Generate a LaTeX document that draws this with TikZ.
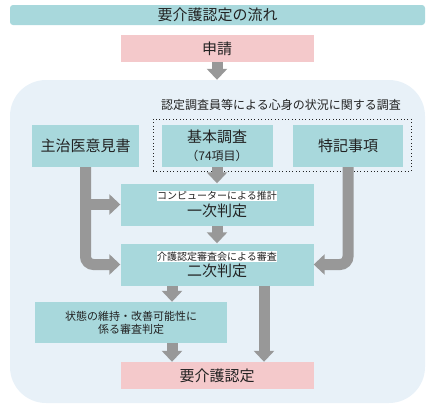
\documentclass[tikz,border=0pt]{standalone}
\usepackage{fontspec}
\setmainfont{Noto Sans CJK JP}
\usepackage{xcolor}
\usetikzlibrary{shapes,arrows,arrows.meta}
\definecolor{boxteal}{RGB}{168,216,220}
\definecolor{boxpink}{RGB}{244,201,203}
\definecolor{panelblue}{RGB}{232,241,248}
\definecolor{arrowgray}{RGB}{152,152,152}
\definecolor{textdark}{RGB}{34,34,34}
\newcommand{\biglabel}{\fontsize{15}{18}\selectfont}
\newcommand{\sublabel}[1]{{\fontsize{10}{12}\selectfont\setlength{\fboxsep}{0.6pt}\colorbox{white}{#1}}}

\begin{document}
\begin{tikzpicture}[x=1pt, y=-1pt, node distance=60pt, auto]
        \tikzstyle{block} = [rectangle, fill=boxteal, text=textdark, inner sep=0pt, minimum width=193pt, minimum height=42pt, align=center, font=\biglabel]
        \tikzstyle{survey} = [block, minimum width=110pt]
        \tikzstyle{pinkbox} = [rectangle, fill=boxpink, text=textdark, inner sep=0pt, minimum width=193pt, minimum height=27pt, font=\biglabel]
        \tikzstyle{panel} = [rectangle, fill=panelblue, rounded corners=36pt, minimum width=415pt, minimum height=323pt, inner sep=0pt]
        \tikzstyle{frame} = [rectangle, draw=textdark, line width=0.8pt, dash pattern=on 0.8pt off 2.6pt, minimum width=258pt, minimum height=52pt, inner sep=0pt]
        \tikzstyle{line} = [draw=arrowgray, line width=11pt, -{Triangle[width=20pt,length=11pt]}]
    \useasboundingbox (0,0) rectangle (433,410);

    \node [panel] (care panel) at (217.5,241.5) {};
    \node [rectangle, fill=boxteal, rounded corners=3pt, minimum width=415pt, minimum height=20pt, inner sep=0pt, text=textdark, font=\biglabel] (flow title) at (217.5,15) {要介護認定の流れ};
    \node [pinkbox] (application) at (217,48.5) {申請};

    \node [frame] (survey frame) at (282,145) {};
    \node [text=textdark, font=\fontsize{12}{14}\selectfont] (survey label) at (281,105) {認定調査員等による心身の状況に関する調査};
    \node [survey, minimum width=107pt] (doctor) at (85.5,146) {主治医意見書};
    \node [survey, minimum width=111pt] (basic) at (217,146) {基本調査\\{\fontsize{12}{14}\selectfont （74項目）}};
    \node [survey] (special) at (348,146) {特記事項};

    \node [block, below of=basic, node distance=58.5pt] (first) {\sublabel{コンピューターによる推計}\\[-1pt]一次判定};
    \node [block, below of=first] (second) {\sublabel{介護認定審査会による審査}\\[-2pt]二次判定};
    \node [block, minimum width=192pt, minimum height=41pt, font=\fontsize{11}{13}\selectfont] (maintain) at (131,322.5) {状態の維持・改善可能性に\\係る審査判定};
    \node [pinkbox, below of=second, node distance=111pt] (result) {要介護認定};

    \coordinate (lane a) at (172,0);
    \coordinate (lane b) at (264,0);

    \path [line] (application.south) -- (application.south |- care panel.north);
    \path [line] (basic) -- (first);
    \path [line] (first) -- (second);
    \path [line] (doctor.south |- first.west) -- (first.west);
    \path [line, rounded corners=8pt] (doctor.south) |- (second.west);
    \path [line, rounded corners=8pt] (special.south) |- (second.east);
    \path [line] (lane a |- second.south) -- (lane a |- maintain.north);
    \path [line] (lane a |- maintain.south) -- (lane a |- result.north);
    \path [line] (lane b |- second.south) -- (lane b |- result.north);
    \end{tikzpicture}
\end{document}
